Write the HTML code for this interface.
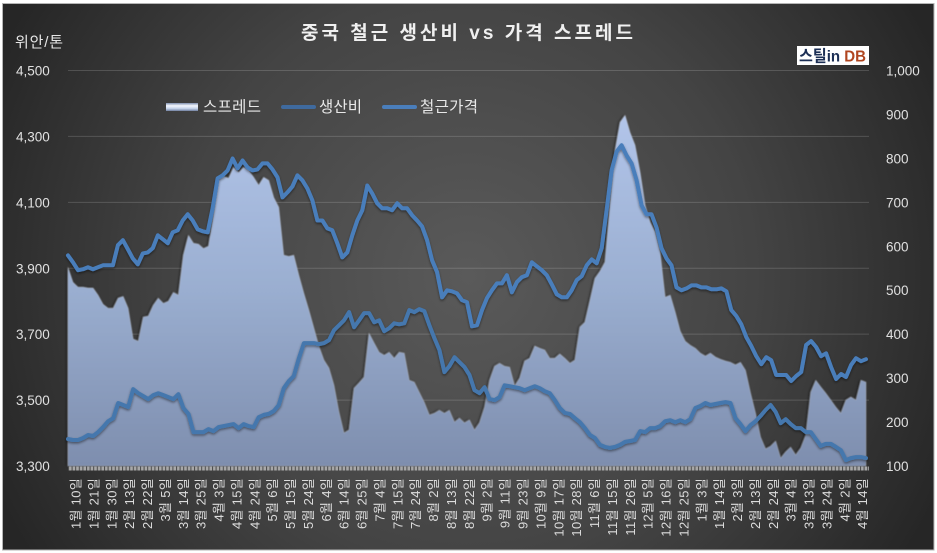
<!DOCTYPE html>
<html lang="ko">
<head>
<meta charset="utf-8">
<title>중국 철근 생산비 vs 가격 스프레드</title>
<style>
html,body{margin:0;padding:0;background:#fff;}
body{width:937px;height:553px;overflow:hidden;}
svg{display:block;font-family:"Liberation Sans","Noto Sans CJK KR",sans-serif;}
</style>
</head>
<body>
<svg id="chart" width="937" height="553" viewBox="0 0 937 553" xmlns="http://www.w3.org/2000/svg">
  <defs>
    <radialGradient id="bgGrad" gradientUnits="userSpaceOnUse" cx="468" cy="276" r="520">
      <stop offset="0" stop-color="#5a5a5a"/>
      <stop offset="0.55" stop-color="#444444"/>
      <stop offset="1" stop-color="#262626"/>
    </radialGradient>
    <linearGradient id="areaGrad" gradientUnits="userSpaceOnUse" x1="0" y1="115" x2="0" y2="466">
      <stop offset="0" stop-color="#b2c5ea"/>
      <stop offset="0.5" stop-color="#9aaed0"/>
      <stop offset="1" stop-color="#7e8eae"/>
    </linearGradient>
    <linearGradient id="swatchGrad" x1="0" y1="0" x2="0" y2="1">
      <stop offset="0" stop-color="#7f8fae"/>
      <stop offset="0.35" stop-color="#f4f8ff"/>
      <stop offset="0.7" stop-color="#c4d2ea"/>
      <stop offset="1" stop-color="#6f7f9e"/>
    </linearGradient>
    <pattern id="tickPat" patternUnits="userSpaceOnUse" x="68" y="0" width="3.6" height="10">
      <rect width="3.6" height="10" fill="#a8a8a8"/>
      <rect width="1" height="10" fill="#4a4a4a"/>
    </pattern>
    <filter id="areaShadow" x="-5%" y="-5%" width="110%" height="110%">
      <feGaussianBlur in="SourceGraphic" stdDeviation="0.5" result="soft"/>
      <feDropShadow in="soft" dx="-1" dy="0" stdDeviation="1.3" flood-color="#000" flood-opacity="0.75"/>
    </filter>
    <filter id="lineShadow" x="-5%" y="-5%" width="110%" height="110%">
      <feDropShadow dx="0" dy="1.5" stdDeviation="1.2" flood-color="#000" flood-opacity="0.45"/>
    </filter>
  </defs>

  <rect x="2.5" y="3.5" width="931.5" height="546.5" fill="url(#bgGrad)" stroke="#b5b5b5" stroke-width="1"/>

  <text x="301" y="39" font-size="19" font-weight="700" fill="#f0f0f0" textLength="332" lengthAdjust="spacing">중국 철근 생산비 vs 가격 스프레드</text>
  <text x="15" y="47" font-size="15" fill="#e6e6e6" textLength="48" lengthAdjust="spacing">위안/톤</text>

  <g id="grid"></g>
  <g id="series"></g>
  <rect x="68" y="466.5" width="801" height="4" fill="url(#tickPat)"/>
  <g id="leftAxis"></g>
  <g id="rightAxis"></g>
  <g id="xAxis"></g>

  <g>
    <g>
      <rect x="166" y="103" width="32" height="8" fill="url(#swatchGrad)"/>
      <text x="203" y="112" font-size="15.5" fill="#e8e8e8" textLength="58" lengthAdjust="spacing">스프레드</text>
    </g>
    <g>
      <line x1="283" y1="107" x2="314" y2="107" stroke="#3f6a9e" stroke-width="4" stroke-linecap="round"/>
      <text x="319" y="112" font-size="15.5" fill="#e8e8e8" textLength="43" lengthAdjust="spacing">생산비</text>
    </g>
    <g>
      <line x1="384" y1="107" x2="415" y2="107" stroke="#4a7ebb" stroke-width="4" stroke-linecap="round"/>
      <text x="420" y="112" font-size="15.5" fill="#e8e8e8" textLength="58" lengthAdjust="spacing">철근가격</text>
    </g>
  </g>

  <g>
    <rect x="797" y="46" width="72" height="19" fill="#ffffff"/>
    <text x="799" y="61.5" font-size="16" font-weight="700" fill="#1c2f55" textLength="67" lengthAdjust="spacingAndGlyphs">스틸in <tspan fill="#b0451f">DB</tspan></text>
  </g>
</svg>

<script>
const leftTicks = [3300, 3500, 3700, 3900, 4100, 4300, 4500];
const rightTicks = [100, 200, 300, 400, 500, 600, 700, 800, 900, 1000];
const dateLabels = ["1월 10일","1월 21일","1월 30일","2월 13일","2월 22일","3월 5일","3월 14일","3월 25일","4월 3일","4월 15일","4월 24일","5월 6일","5월 15일","5월 24일","6월 4일","6월 14일","6월 25일","7월 4일","7월 15일","7월 24일","8월 2일","8월 13일","8월 22일","9월 2일","9월 11일","9월 23일","10월 9일","10월 17일","10월 28일","11월 6일","11월 15일","11월 26일","12월 5일","12월 16일","12월 25일","1월 3일","1월 14일","2월 3일","2월 13일","2월 24일","3월 4일","3월 13일","3월 24일","4월 2일","4월 14일"];

const spreadValues = [552,518,507,507,505,505,489,468,459,459,482,486,459,389,384,439,441,466,482,470,475,495,489,580,625,607,605,595,600,670,750,759,755,780,768,780,773,757,739,757,750,711,689,580,577,580,534,493,455,414,373,341,323,284,223,175,182,277,289,302,402,380,359,352,359,345,359,357,295,291,268,245,216,220,227,220,227,200,209,198,205,182,198,234,295,327,334,327,325,282,300,339,345,373,368,364,345,345,355,345,334,341,416,427,477,527,543,564,693,818,882,898,859,830,768,693,655,632,586,484,489,450,407,384,375,368,357,350,357,348,343,339,336,330,336,318,266,220,166,139,145,157,118,132,143,125,141,170,268,295,280,266,250,234,220,250,257,250,295,291];

const costValues = [3382,3379,3379,3385,3394,3391,3403,3418,3436,3445,3491,3485,3479,3533,3521,3512,3503,3515,3521,3515,3509,3503,3518,3476,3458,3403,3403,3403,3412,3406,3418,3421,3424,3427,3415,3427,3421,3418,3448,3455,3458,3467,3485,3536,3558,3573,3627,3673,3673,3673,3670,3673,3682,3712,3727,3742,3767,3721,3742,3764,3764,3736,3742,3709,3718,3733,3730,3733,3773,3767,3776,3770,3727,3688,3652,3585,3603,3630,3615,3600,3576,3530,3521,3539,3503,3500,3509,3545,3542,3539,3536,3530,3536,3542,3536,3527,3521,3500,3476,3461,3458,3445,3433,3415,3394,3385,3364,3358,3355,3358,3364,3373,3376,3379,3406,3403,3415,3415,3421,3436,3439,3433,3439,3433,3442,3476,3482,3491,3485,3488,3491,3494,3491,3445,3427,3406,3424,3436,3452,3470,3485,3464,3430,3442,3427,3415,3415,3403,3403,3382,3361,3367,3367,3358,3348,3318,3324,3327,3327,3324];

const priceValues = [3939,3918,3894,3897,3903,3897,3903,3909,3909,3909,3970,3985,3958,3930,3912,3945,3948,3961,4000,3988,3976,4009,4015,4045,4064,4045,4018,4012,4009,4082,4173,4182,4197,4233,4203,4227,4206,4197,4200,4218,4218,4200,4176,4115,4130,4148,4182,4167,4142,4106,4045,4045,4021,4015,3976,3933,3948,4000,4045,4076,4151,4127,4097,4082,4082,4076,4097,4082,4082,4061,4045,4027,3985,3924,3888,3812,3833,3830,3824,3803,3797,3724,3727,3773,3809,3833,3854,3854,3879,3827,3858,3873,3879,3918,3906,3894,3879,3851,3821,3812,3812,3833,3864,3876,3909,3927,3915,3961,4076,4197,4254,4273,4242,4218,4167,4091,4064,4064,4024,3961,3930,3909,3842,3833,3839,3848,3848,3842,3842,3836,3836,3839,3830,3773,3755,3730,3691,3664,3633,3609,3630,3621,3576,3576,3576,3558,3573,3585,3667,3679,3661,3633,3642,3600,3564,3579,3570,3606,3627,3618,3624];

const NS = 'http://www.w3.org/2000/svg';
const plotLeft = 68, plotRight = 866, plotTop = 70.5, plotBottom = 466;

function xScale(i, n) { return plotLeft + (plotRight - plotLeft) * i / (n - 1); }
function yLeft(v) { return plotBottom - (v - 3300) / 1200 * (plotBottom - plotTop); }
function yRight(v) { return plotBottom - (v - 100) / 900 * (plotBottom - plotTop); }
function make(tag, parent, attrs, text) {
  const el = document.createElementNS(NS, tag);
  for (const k in attrs) el.setAttribute(k, attrs[k]);
  if (text !== undefined) el.textContent = text;
  parent.appendChild(el);
  return el;
}
function linePath(values, yFn) {
  return values.map((v, i) => (i ? 'L' : 'M') + xScale(i, values.length).toFixed(1) + ' ' + yFn(v).toFixed(1)).join(' ');
}

const gridG = document.getElementById('grid');
const leftG = document.getElementById('leftAxis');
const rightG = document.getElementById('rightAxis');
const xG = document.getElementById('xAxis');
const seriesG = document.getElementById('series');

leftTicks.forEach(t => {
  const y = yLeft(t);
  if (t > 3300) {
    const g = make('line', gridG, {x1: plotLeft, x2: 869, y1: y, y2: y, stroke: '#ffffff', 'stroke-opacity': 0.16, 'stroke-width': 1});
    
    
  }
  const l = make('text', leftG, {x: 16, y: y + 5, 'font-size': 13.5, fill: '#e0e0e0'}, t.toLocaleString('en-US'));
  
  
});

rightTicks.forEach(t => {
  const l = make('text', rightG, {x: 886, y: yRight(t) + 5, 'font-size': 13.5, fill: '#e0e0e0'}, t.toLocaleString('en-US'));
  
  
});

dateLabels.forEach((d, i) => {
  const x = 75.5 + 17.88 * i;
  const l = make('text', xG, {transform: 'translate(' + (x + 5) + ',478) rotate(-90)', 'text-anchor': 'end', 'font-size': 13, fill: '#dcdcdc', 'letter-spacing': 0.3}, d);
  
  
});

const area = make('path', seriesG, {
  d: linePath(spreadValues, yRight) + ' L' + xScale(spreadValues.length - 1, spreadValues.length).toFixed(1) + ' ' + plotBottom + ' L' + plotLeft + ' ' + plotBottom + ' Z',
  fill: 'url(#areaGrad)', stroke: '#ffffff', 'stroke-opacity': 0.22, 'stroke-width': 0.8, 'stroke-linejoin': 'round', filter: 'url(#areaShadow)'
});



const costLine = make('path', seriesG, {d: linePath(costValues, yLeft), fill: 'none', stroke: '#4477ad', 'stroke-width': 4, 'stroke-linejoin': 'round', 'stroke-linecap': 'round', filter: 'url(#lineShadow)'});



const priceLine = make('path', seriesG, {d: linePath(priceValues, yLeft), fill: 'none', stroke: '#4a7ebb', 'stroke-width': 4, 'stroke-linejoin': 'round', 'stroke-linecap': 'round', filter: 'url(#lineShadow)'});


</script>
</body>
</html>
